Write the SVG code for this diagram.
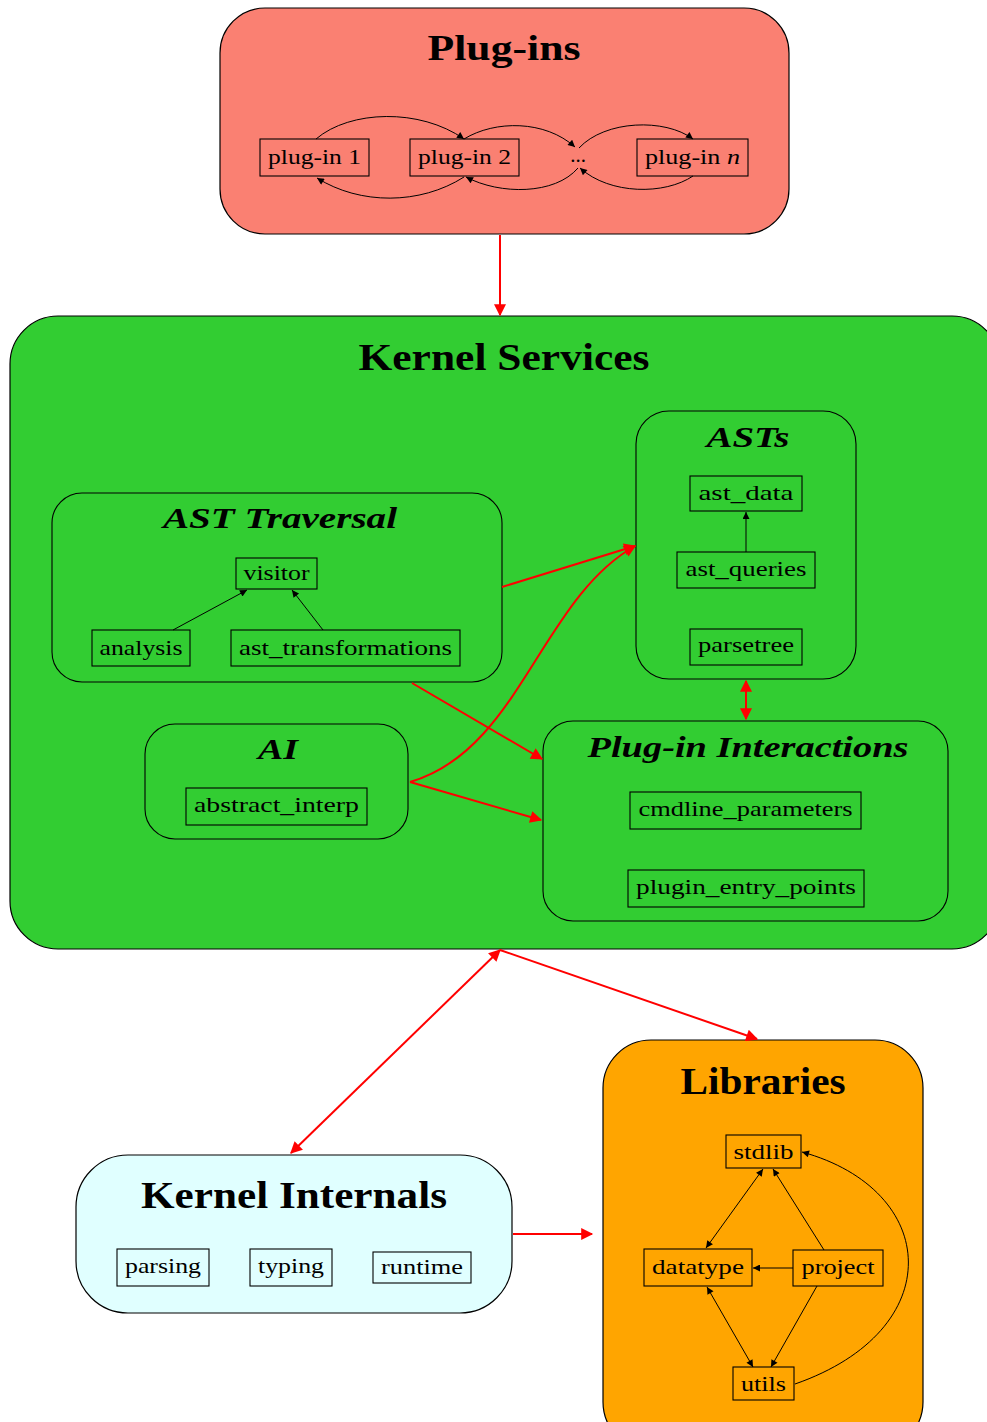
<svg xmlns="http://www.w3.org/2000/svg" width="987" height="1422" viewBox="0 0 987 1422">
<style>
.grp{stroke:#000;stroke-width:1.2}
.title{font-family:"Liberation Serif","DejaVu Serif",serif;font-weight:bold;text-anchor:middle;fill:#000}
.sub{font-family:"Liberation Serif","DejaVu Serif",serif;font-weight:bold;font-style:italic;text-anchor:middle;fill:#000;font-size:30px}
.box{fill:none;stroke:#000;stroke-width:1.1}
.lbl{font-family:"Liberation Serif","DejaVu Serif",serif;font-size:21px;text-anchor:middle;fill:#000}
.red{fill:none;stroke:#FF0000;stroke-width:2}
.blk{fill:none;stroke:#000;stroke-width:1}
</style>
<defs>
<marker id="ra" viewBox="0 0 10 10" refX="9" refY="5" markerWidth="15" markerHeight="12" orient="auto-start-reverse" markerUnits="userSpaceOnUse"><path d="M0,0 L10,5 L0,10 z" fill="#FF0000"/></marker>
<marker id="ba" viewBox="0 0 10 10" refX="10" refY="5" markerWidth="10" markerHeight="7" orient="auto-start-reverse" markerUnits="userSpaceOnUse"><path d="M0,0 L10,5 L0,10 z" fill="#000"/></marker>
</defs>

<g id="plugins">
<rect class="grp" x="220" y="8" width="569" height="226" rx="45" fill="#FA8072"/>
<text class="title" x="504" y="60" font-size="35" textLength="153" lengthAdjust="spacingAndGlyphs">Plug-ins</text>
<g id="plugin1"><rect class="box" x="260" y="139" width="109" height="37"/><text class="lbl" x="314.5" y="164" textLength="93" lengthAdjust="spacingAndGlyphs">plug-in 1</text></g>
<g id="plugin2"><rect class="box" x="410" y="139" width="109" height="37"/><text class="lbl" x="464.5" y="164" textLength="93" lengthAdjust="spacingAndGlyphs">plug-in 2</text></g>
<g id="pluginDots"><text class="lbl" x="578" y="162">...</text></g>
<g id="pluginN"><rect class="box" x="637" y="139" width="111" height="37"/><text class="lbl" x="692.5" y="164" textLength="95" lengthAdjust="spacingAndGlyphs">plug-in <tspan font-style="italic">n</tspan></text></g>
</g>

<g id="kernelServices">
<rect class="grp" x="10" y="316" width="990" height="633" rx="48" fill="#32CD32"/>
<text class="title" x="504" y="370" font-size="37" textLength="291" lengthAdjust="spacingAndGlyphs">Kernel Services</text>
</g>

<g id="astTraversal">
<rect class="box" x="52" y="493" width="450" height="189" rx="30"/>
<text class="sub" x="280" y="528" textLength="234" lengthAdjust="spacingAndGlyphs">AST Traversal</text>
<g id="visitor"><rect class="box" x="236" y="558" width="81" height="31"/><text class="lbl" x="276.5" y="580" textLength="66" lengthAdjust="spacingAndGlyphs">visitor</text></g>
<g id="analysis"><rect class="box" x="92" y="630" width="98" height="36"/><text class="lbl" x="141" y="655" textLength="83" lengthAdjust="spacingAndGlyphs">analysis</text></g>
<g id="astTransformations"><rect class="box" x="231" y="630" width="229" height="36"/><text class="lbl" x="345.5" y="655" textLength="213" lengthAdjust="spacingAndGlyphs">ast_transformations</text></g>
</g>

<g id="asts">
<rect class="box" x="636" y="411" width="220" height="268" rx="33"/>
<text class="sub" x="748" y="447" textLength="83" lengthAdjust="spacingAndGlyphs">ASTs</text>
<g id="astData"><rect class="box" x="690" y="476" width="112" height="35"/><text class="lbl" x="746" y="500" textLength="95" lengthAdjust="spacingAndGlyphs">ast_data</text></g>
<g id="astQueries"><rect class="box" x="677" y="552" width="138" height="36"/><text class="lbl" x="746" y="576" textLength="121" lengthAdjust="spacingAndGlyphs">ast_queries</text></g>
<g id="parsetree"><rect class="box" x="690" y="629" width="112" height="36"/><text class="lbl" x="746" y="652" textLength="96" lengthAdjust="spacingAndGlyphs">parsetree</text></g>
</g>

<g id="ai">
<rect class="box" x="145" y="724" width="263" height="115" rx="30"/>
<text class="sub" x="278" y="759" textLength="40" lengthAdjust="spacingAndGlyphs">AI</text>
<g id="abstractInterp"><rect class="box" x="186" y="788" width="181" height="37"/><text class="lbl" x="276.5" y="812" textLength="165" lengthAdjust="spacingAndGlyphs">abstract_interp</text></g>
</g>

<g id="pluginInteractions">
<rect class="box" x="543" y="721" width="405" height="200" rx="30"/>
<text class="sub" x="748" y="757" textLength="321" lengthAdjust="spacingAndGlyphs">Plug-in Interactions</text>
<g id="cmdlineParameters"><rect class="box" x="630" y="792" width="231" height="37"/><text class="lbl" x="745.5" y="816" textLength="214" lengthAdjust="spacingAndGlyphs">cmdline_parameters</text></g>
<g id="pluginEntryPoints"><rect class="box" x="628" y="870" width="236" height="37"/><text class="lbl" x="746" y="894" textLength="220" lengthAdjust="spacingAndGlyphs">plugin_entry_points</text></g>
</g>

<g id="libraries">
<rect class="grp" x="603" y="1040" width="320" height="410" rx="48" fill="#FFA500"/>
<text class="title" x="763" y="1094" font-size="37" textLength="165" lengthAdjust="spacingAndGlyphs">Libraries</text>
<g id="stdlib"><rect class="box" x="726" y="1135" width="75" height="33"/><text class="lbl" x="763.5" y="1159" textLength="60" lengthAdjust="spacingAndGlyphs">stdlib</text></g>
<g id="datatype"><rect class="box" x="644" y="1249" width="108" height="37"/><text class="lbl" x="698" y="1274" textLength="92" lengthAdjust="spacingAndGlyphs">datatype</text></g>
<g id="project"><rect class="box" x="793" y="1250" width="90" height="36"/><text class="lbl" x="838" y="1274" textLength="73" lengthAdjust="spacingAndGlyphs">project</text></g>
<g id="utils"><rect class="box" x="733" y="1367" width="61" height="33"/><text class="lbl" x="763.5" y="1391" textLength="45" lengthAdjust="spacingAndGlyphs">utils</text></g>
</g>

<g id="kernelInternals">
<rect class="grp" x="76" y="1155" width="436" height="158" rx="52" fill="#E0FFFF"/>
<text class="title" x="294" y="1208" font-size="37" textLength="306" lengthAdjust="spacingAndGlyphs">Kernel Internals</text>
<g id="parsing"><rect class="box" x="117" y="1249" width="92" height="37"/><text class="lbl" x="163" y="1273" textLength="76" lengthAdjust="spacingAndGlyphs">parsing</text></g>
<g id="typing"><rect class="box" x="250" y="1249" width="82" height="37"/><text class="lbl" x="291" y="1273" textLength="66" lengthAdjust="spacingAndGlyphs">typing</text></g>
<g id="runtime"><rect class="box" x="373" y="1252" width="98" height="31"/><text class="lbl" x="422" y="1274" textLength="82" lengthAdjust="spacingAndGlyphs">runtime</text></g>
</g>

<g id="connectors">
<!-- plug-in chain -->
<path class="blk" d="M316,139 C350,110 420,108 464,139" marker-end="url(#ba)"/>
<path class="blk" d="M464,139 C495,120 545,120 575,147" marker-end="url(#ba)"/>
<path class="blk" d="M579,148 C605,120 665,118 693,139" marker-end="url(#ba)"/>
<path class="blk" d="M693,176 C665,195 610,195 580,168" marker-end="url(#ba)"/>
<path class="blk" d="M578,168 C555,195 500,195 466,177" marker-end="url(#ba)"/>
<path class="blk" d="M464,177 C420,205 360,205 317,178" marker-end="url(#ba)"/>
<!-- plugins to kernel services -->
<path class="red" d="M500,235 L500,315" marker-end="url(#ra)"/>
<!-- inside AST traversal -->
<path class="blk" d="M173,630 L247,590" marker-end="url(#ba)"/>
<path class="blk" d="M323,630 L292,590" marker-end="url(#ba)"/>
<!-- inside ASTs -->
<path class="blk" d="M746,552 L746,512" marker-end="url(#ba)"/>
<!-- kernel services internals -->
<path class="red" d="M502,587 L635,546" marker-end="url(#ra)"/>
<path class="red" d="M412,683 L542,759" marker-end="url(#ra)"/>
<path class="red" d="M410,782 C520,750 540,600 635,546" marker-end="url(#ra)"/>
<path class="red" d="M410,782 L541,820" marker-end="url(#ra)"/>
<path class="red" d="M746,681 L746,719" marker-start="url(#ra)" marker-end="url(#ra)"/>
<!-- bottom -->
<path class="red" d="M500,950 L291,1153" marker-start="url(#ra)" marker-end="url(#ra)"/>
<path class="red" d="M500,950 L757,1039" marker-end="url(#ra)"/>
<path class="red" d="M513,1234 L592,1234" marker-end="url(#ra)"/>
<!-- libraries -->
<path class="blk" d="M763,1169 L706,1248" marker-start="url(#ba)" marker-end="url(#ba)"/>
<path class="blk" d="M824,1250 L773,1169" marker-end="url(#ba)"/>
<path class="blk" d="M793,1268 L753,1268" marker-end="url(#ba)"/>
<path class="blk" d="M707,1287 L753,1367" marker-start="url(#ba)" marker-end="url(#ba)"/>
<path class="blk" d="M817,1286 L771,1367" marker-end="url(#ba)"/>
<path class="blk" d="M795,1384 C950,1330 940,1190 802,1152" marker-end="url(#ba)"/>
</g>
</svg>
